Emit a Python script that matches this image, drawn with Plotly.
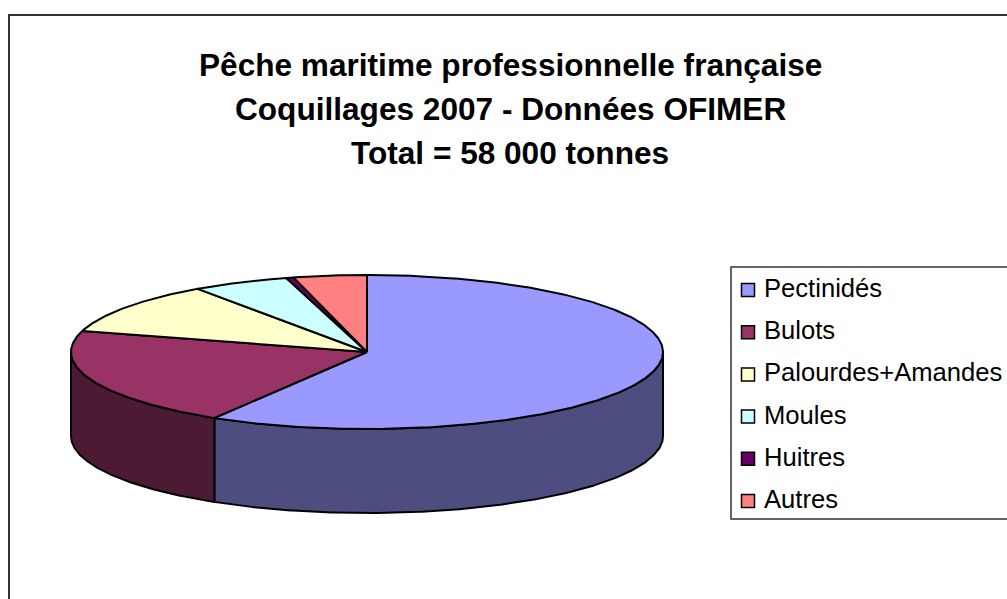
import numpy as np
import plotly.graph_objects as go

# Data (tonnes; total 58 000)
categories = ["Pectinidés", "Bulots", "Palourdes+Amandes", "Moules", "Huitres", "Autres"]
tonnes = [34000, 12060, 6320, 3070, 230, 2320]
top_colors = ["#9999FF", "#993366", "#FFFFCC", "#CCFFFF", "#660066", "#FF8080"]
side_colors = ["#4D4D80", "#4D1A33", "#80804D", "#4D8080", "#330033", "#804040"]
title_lines = ["Pêche maritime professionnelle française",
               "Coquillages 2007 - Données OFIMER",
               "Total = 58 000 tonnes"]

W, H = 1007, 599
CX, CY, RX, RY, DEPTH = 367, 352, 296, 77, 84
FONT = "Liberation Sans, Arial, sans-serif"


def arc(a, b, dy=0):
    t = np.radians(np.linspace(a, b, max(int(abs(b - a) * 2), 2)))
    return CX + RX * np.sin(t), CY - RY * np.cos(t) + dy


fig = go.Figure()
edges = np.concatenate([[0], np.cumsum(tonnes)]) / sum(tonnes) * 360

# Visible outer wall: front half of the disc only
for i, name in enumerate(categories):
    a, b = max(edges[i], 90), min(edges[i + 1], 270)
    if b <= a:
        continue
    x1, y1 = arc(a, b)
    x2, y2 = arc(b, a, DEPTH)
    fig.add_trace(go.Scatter(
        x=np.r_[x1, x2, x1[0]], y=np.r_[y1, y2, y1[0]], mode="lines", fill="toself",
        fillcolor=side_colors[i], line=dict(color="black", width=2),
        hoverinfo="skip", showlegend=False))

# Top face
for i, name in enumerate(categories):
    x1, y1 = arc(edges[i], edges[i + 1])
    fig.add_trace(go.Scatter(
        x=np.r_[CX, x1, CX], y=np.r_[CY, y1, CY], mode="lines", fill="toself",
        fillcolor=top_colors[i], line=dict(color="black", width=2),
        name=name, text=f"{name}: {tonnes[i]} t", hoverinfo="text", showlegend=False))

# Hand-placed legend, so that it can run off the right edge like the reference
LEG_X, LEG_Y0, LEG_STEP = 748, 290, 42.2
for i, name in enumerate(categories):
    fig.add_trace(go.Scatter(
        x=[LEG_X], y=[LEG_Y0 + i * LEG_STEP], mode="markers",
        marker=dict(symbol="square", size=13, color=top_colors[i],
                    line=dict(color="black", width=1.5)),
        hoverinfo="skip", showlegend=False))
    fig.add_annotation(x=763, y=LEG_Y0 + i * LEG_STEP - 2, text=name, showarrow=False,
                       xanchor="left", yanchor="middle", xshift=-1,
                       font=dict(family=FONT, size=25.6, color="black"))

for i, line in enumerate(title_lines):
    fig.add_annotation(x=510, y=65 + i * 44, text=f"<b>{line}</b>", showarrow=False,
                       xanchor="center", yanchor="middle",
                       font=dict(family=FONT, size=31.6, color="black"))

fig.update_layout(
    width=W, height=H, margin=dict(l=0, r=0, t=0, b=0),
    paper_bgcolor="white", plot_bgcolor="white", showlegend=False,
    xaxis=dict(range=[0, W], visible=False, fixedrange=True),
    yaxis=dict(range=[H, 0], visible=False, fixedrange=True),
    shapes=[
        dict(type="rect", x0=9, y0=15, x1=W + 50, y1=H + 50, line=dict(color="#333333", width=2),
             fillcolor="rgba(0,0,0,0)", layer="below"),
        dict(type="rect", x0=731, y0=267, x1=W + 50, y1=519, line=dict(color="#333333", width=1.5),
             fillcolor="white", layer="below"),
    ],
)
fig.write_html("out.html", config={"displayModeBar": False},
               post_script="document.body.style.margin='0';document.body.style.overflow='hidden';")
